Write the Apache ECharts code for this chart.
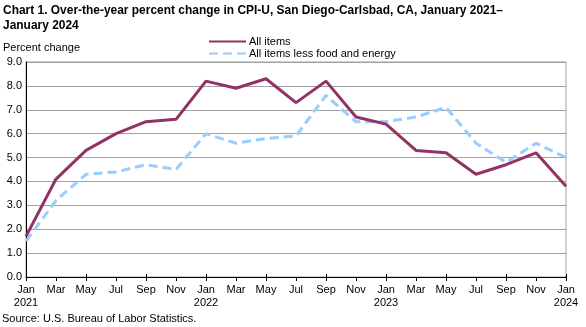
<!DOCTYPE html>
<html>
<head>
<meta charset="utf-8">
<script src="https://cdn.jsdelivr.net/npm/echarts@6/dist/echarts.min.js"></script>
<style>html,body{margin:0;padding:0;background:#fff;}#c{width:586px;height:327px;}</style>
</head>
<body>
<div id="c"></div>
<script>
const months = ['Jan','Mar','May','Jul','Sep','Nov','Jan','Mar','May','Jul','Sep','Nov','Jan','Mar','May','Jul','Sep','Nov','Jan'];
const years = ['2021','','','','','','2022','','','','','','2023','','','','','','2024'];
const allItems = [1.7,4.1,5.3,6.0,6.5,6.6,8.2,7.9,8.3,7.3,8.2,6.7,6.4,5.3,5.2,4.3,4.7,5.2,3.8];
const lessFoodEnergy = [1.5,3.2,4.3,4.4,4.7,4.5,6.0,5.6,5.8,5.9,7.6,6.5,6.5,6.7,7.1,5.6,4.8,5.6,5.0];
const yTicks = [0,1,2,3,4,5,6,7,8,9];

const categories = months.map((m,i) => years[i] ? m + '\n' + years[i] : m);
const font = 'Arial, "Liberation Sans", sans-serif';
const chart = echarts.init(document.getElementById('c'), null, {renderer:'canvas'});
chart.setOption({
  animation:false,
  backgroundColor:'#fff',
  textStyle:{fontFamily:font},
  graphic:[{
    type:'text', x:3, y:3, scaleX:0.885, originX:0, originY:0,
    style:{text:'Chart 1. Over-the-year percent change in CPI-U, San Diego-Carlsbad, CA, January 2021–\nJanuary 2024',
      font:'bold 13.5px Arial, "Liberation Sans", sans-serif', fill:'#000', lineHeight:15}
  }],
  title:[
    {text:'Percent change', left:3, top:42, padding:0, textStyle:{fontSize:11, fontWeight:'normal', color:'#000', fontFamily:font}},
    {text:'Source: U.S. Bureau of Labor Statistics.', left:2, top:313, padding:0, textStyle:{fontSize:11, fontWeight:'normal', color:'#000', fontFamily:font}}
  ],
  legend:{
    orient:'vertical', left:208, top:36, padding:0, itemWidth:37, itemHeight:8, itemGap:1,
    itemStyle:{opacity:0},
    textStyle:{fontSize:11, color:'#000', fontFamily:font, padding:[0,0,0,-2]},
    data:['All items','All items less food and energy']
  },
  grid:{left:26, right:20, top:62, bottom:50, show:true, borderColor:'#a0a0a0', borderWidth:1, containLabel:false},
  xAxis:[{
    type:'category', data:categories, boundaryGap:false,
    axisLine:{lineStyle:{color:'#000', width:1}},
    axisTick:{length:4, lineStyle:{color:'#000'}},
    axisLabel:{interval:0, fontSize:11, color:'#000', lineHeight:13, margin:6, fontFamily:font}
  },{
    type:'category', data:categories, boundaryGap:false, position:'bottom',
    axisLine:{show:false},
    axisTick:{inside:true, length:3, lineStyle:{color:'#000'}},
    axisLabel:{show:false}
  }],
  yAxis:{
    type:'value', min:0, max:9, interval:1,
    axisLine:{show:true, lineStyle:{color:'#000'}},
    axisTick:{show:false},
    axisLabel:{formatter:v=>v.toFixed(1), fontSize:11, color:'#000', margin:4, fontFamily:font},
    splitLine:{lineStyle:{color:'#a0a0a0', width:1}}
  },
  series:[
    {name:'All items', type:'line', data:allItems, symbol:'none', color:'#933263',
     lineStyle:{width:3, color:'#933263'}, z:3},
    {name:'All items less food and energy', type:'line', data:lessFoodEnergy, symbol:'none', color:'#99ccff',
     lineStyle:{width:3, color:'#99ccff', type:[9,5]}, z:2}
  ]
});
</script>
</body>
</html>
